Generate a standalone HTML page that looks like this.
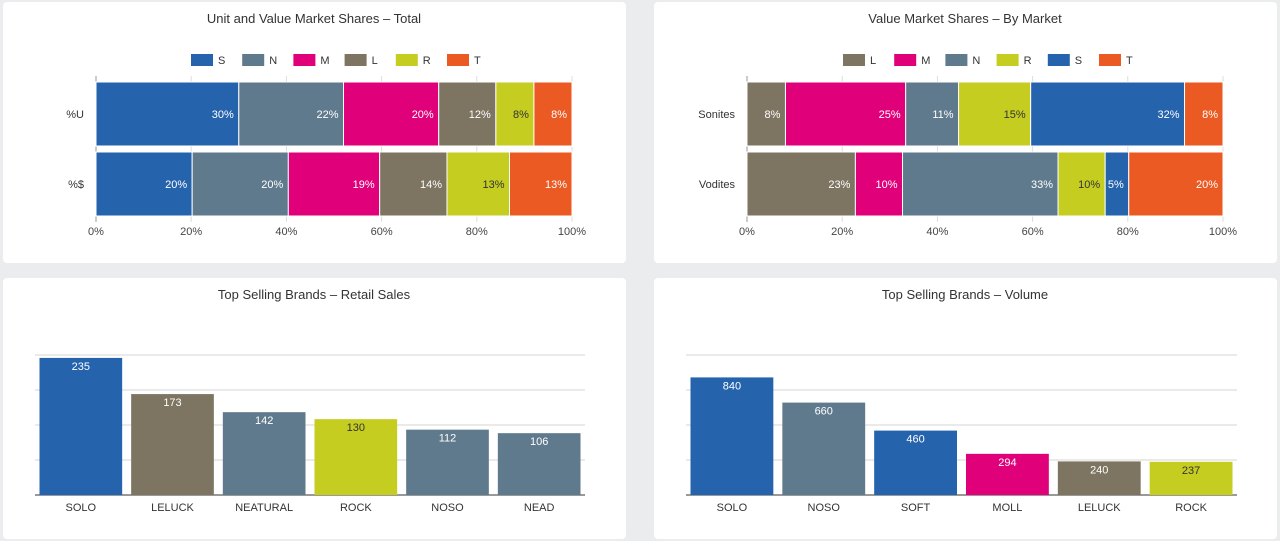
<!DOCTYPE html>
<html><head><meta charset="utf-8">
<style>
html,body{margin:0;padding:0;background:#ebecee;}
svg{display:block;font-family:"Liberation Sans",sans-serif;}
</style></head>
<body>
<svg id="root" width="1280" height="541" viewBox="0 0 1280 541">
<rect x="3" y="2" width="623" height="261" rx="4" fill="#fff"/>
<rect x="654" y="2" width="623" height="261" rx="4" fill="#fff"/>
<rect x="3" y="278" width="623" height="261" rx="4" fill="#fff"/>
<rect x="654" y="278" width="623" height="261" rx="4" fill="#fff"/>
<text x="314" y="23" text-anchor="middle" font-size="13" fill="#333">Unit and Value Market Shares – Total</text>
<text x="965" y="23" text-anchor="middle" font-size="13" fill="#333">Value Market Shares – By Market</text>
<text x="314" y="299" text-anchor="middle" font-size="13" fill="#333">Top Selling Brands – Retail Sales</text>
<text x="965" y="299" text-anchor="middle" font-size="13" fill="#333">Top Selling Brands – Volume</text>
</svg>
<script>
const COLORS={S:"#2563ad",N:"#5f7a8c",M:"#e0007a",L:"#7d7461",R:"#c5cd20",T:"#ea5a22"};
// Chart 1 data
const c1Rows=["%U","%$"];
const c1Series=["S","N","M","L","R","T"];
const c1Values=[[30,22,20,12,8,8],[20,20,19,14,13,13]];
// Chart 2 data
const c2Rows=["Sonites","Vodites"];
const c2Series=["L","M","N","R","S","T"];
const c2Values=[[8,25,11,15,32,8],[23,10,33,10,5,20]];
const pctTicks=["0%","20%","40%","60%","80%","100%"];
// Chart 3 data
const c3Cats=["SOLO","LELUCK","NEATURAL","ROCK","NOSO","NEAD"];
const c3Vals=[235,173,142,130,112,106];
const c3Keys=["S","L","N","R","N","N"];
const c3Max=240;
// Chart 4 data
const c4Cats=["SOLO","NOSO","SOFT","MOLL","LELUCK","ROCK"];
const c4Vals=[840,660,460,294,240,237];
const c4Keys=["S","N","S","M","L","R"];
const c4Max=1000;

const NS="http://www.w3.org/2000/svg";
const root=document.getElementById("root");
function mk(tag,attrs,txt){const e=document.createElementNS(NS,tag);for(const k in attrs)e.setAttribute(k,attrs[k]);if(txt!=null)e.textContent=txt;root.appendChild(e);return e;}

function stacked(prefix,x0,x1,rows,series,values,legendX){
  const xs=v=>x0+(x1-x0)*v/100;
  const rowY=[82,152],rowH=64;
  // grid
  pctTicks.forEach((t,i)=>{
    const x=xs(i*20);
    const g=mk("line",{x1:x,x2:x,y1:76,y2:222,stroke:"#ddd","stroke-width":1});
    
    
    const tl=mk("text",{x:x,y:235,"text-anchor":"middle","font-size":11,fill:"#444"},t);
    
    
  });
  const ax=mk("line",{x1:x0,x2:x0,y1:76,y2:222,stroke:"#999","stroke-width":1});
  
  
  rows.forEach((r,ri)=>{
    const tot=values[ri].reduce((a,b)=>a+b,0);
    let acc=0;
    values[ri].forEach((v,si)=>{
      const a=xs(acc/tot*100),b=xs((acc+v)/tot*100);acc+=v;
      const k=series[si];
      const rc=mk("rect",{x:a,y:rowY[ri],width:b-a,height:rowH,fill:COLORS[k],stroke:"#fff","stroke-width":1});
      
      
      const lt=mk("text",{x:b-5,y:rowY[ri]+rowH/2+4,"text-anchor":"end","font-size":11,fill:k==="R"?"#333":"#fff"},v+"%");
      
      
    });
    const yl=mk("text",{x:x0-12,y:rowY[ri]+rowH/2+4,"text-anchor":"end","font-size":11,fill:"#333"},r);
    
    
  });
  series.forEach((k,i)=>{
    const lx=legendX+i*51.2;
    const sw=mk("rect",{x:lx,y:54,width:22,height:12,fill:COLORS[k]});
    
    
    const lt=mk("text",{x:lx+27,y:64,"font-size":11,fill:"#333"},k);
    
    
  });
}
stacked("c1",96,572,c1Rows,c1Series,c1Values,191);
stacked("c2",747,1223,c2Rows,c2Series,c2Values,843);

function columns(prefix,x0,x1,cats,vals,keys,max){
  const base=495,top=355;
  const ys=v=>base-(base-top)*v/max;
  for(let i=0;i<=4;i++){
    const y=ys(max*i/4);
    const g=mk("line",{x1:x0,x2:x1,y1:y,y2:y,stroke:i===0?"#333":"#d6d6d6","stroke-width":1});
    
    
  }
  const bw=(x1-x0)/cats.length;
  cats.forEach((c,i)=>{
    const cx=x0+bw*(i+0.5),w=bw-9;
    const y=ys(vals[i]);
    const rc=mk("rect",{x:cx-w/2,y:y,width:w,height:base-y,fill:COLORS[keys[i]]});
    
    
    const vl=mk("text",{x:cx,y:y+12,"text-anchor":"middle","font-size":11,fill:keys[i]==="R"?"#333":"#fff"},vals[i]);
    
    
    const cl=mk("text",{x:cx,y:511,"text-anchor":"middle","font-size":11,fill:"#333"},c);
    
    
  });
}
columns("c3",35,585,c3Cats,c3Vals,c3Keys,c3Max);
columns("c4",686,1237,c4Cats,c4Vals,c4Keys,c4Max);
</script>
</body></html>
